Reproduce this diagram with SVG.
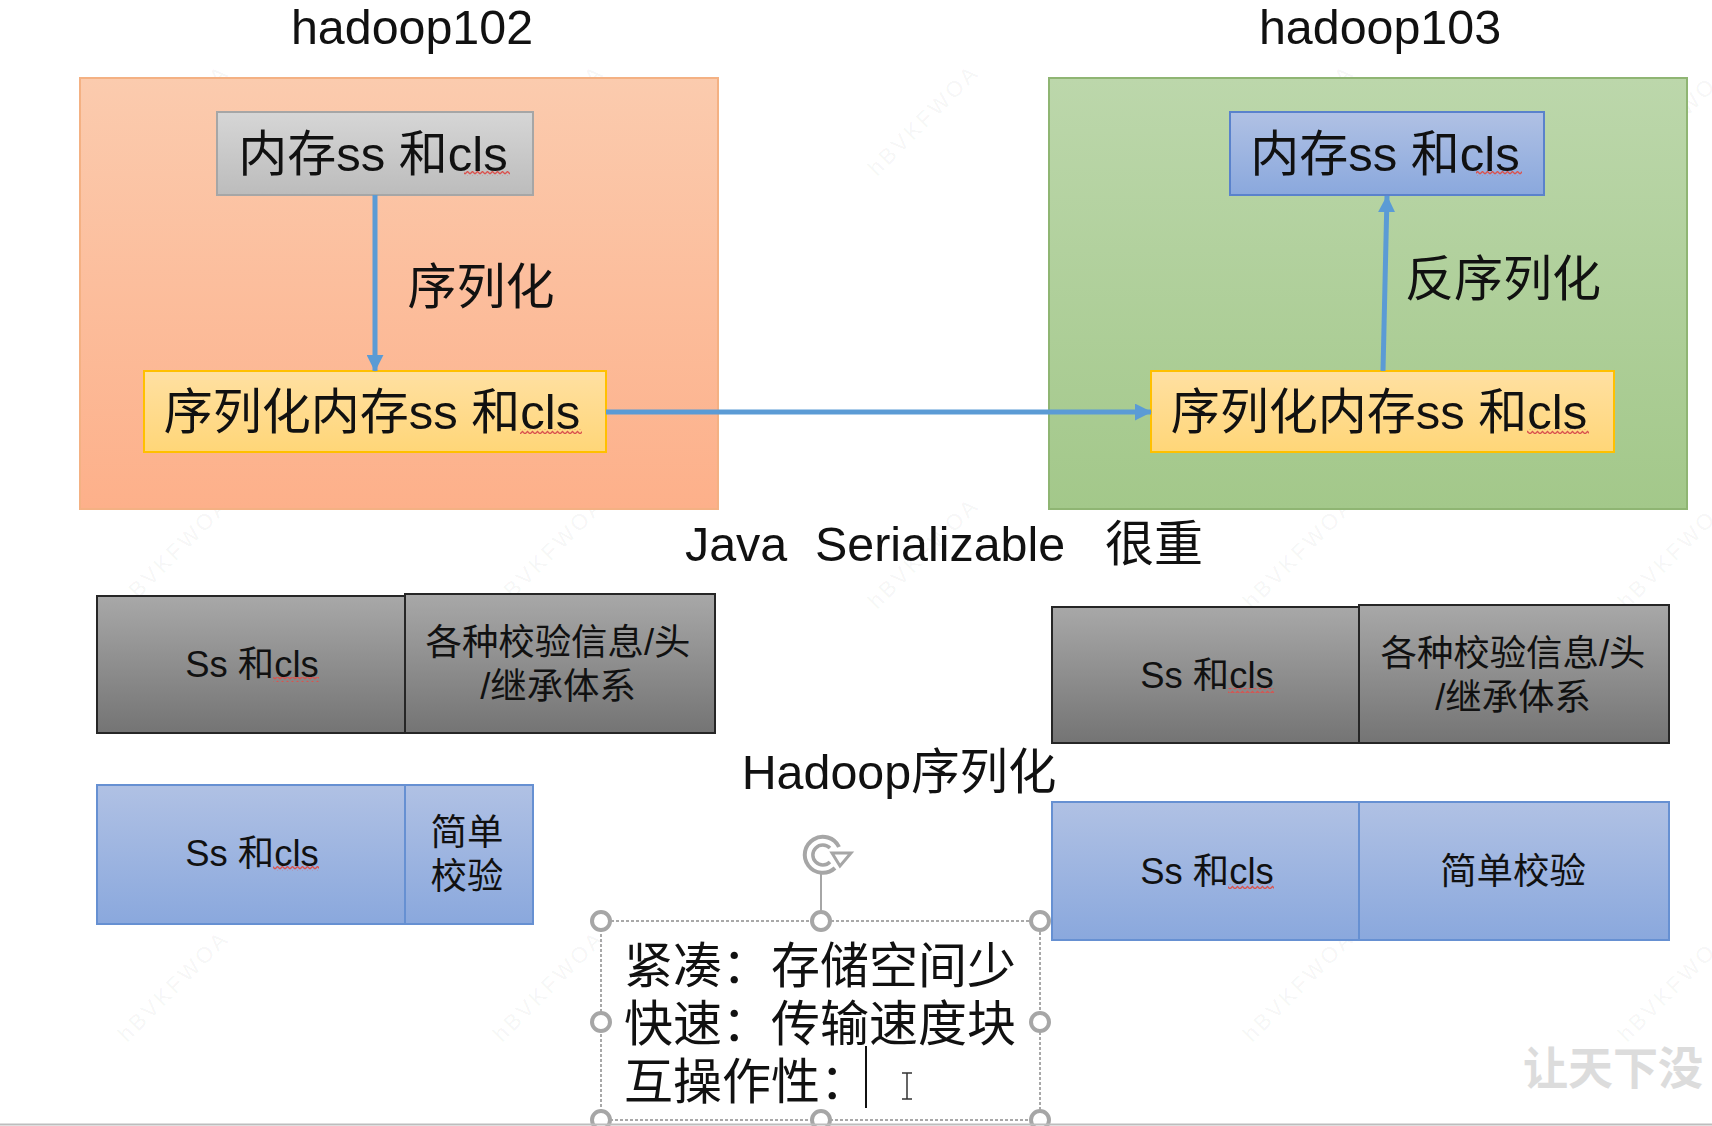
<svg xmlns="http://www.w3.org/2000/svg" width="1712" height="1126" viewBox="0 0 1712 1126">
<style>
text{font-family:"Liberation Sans","Noto Sans CJK SC",sans-serif;fill:#111;text-anchor:middle}
.t49{font-size:49px}.t48{font-size:48.4px}.t36{font-size:36.4px}
.l{text-anchor:start}
.wm{font-size:22px;fill:#000;fill-opacity:.055;letter-spacing:3px;text-anchor:start}
.conn{stroke:#5b9bd5;stroke-width:5;fill:none}
.h{fill:#fff;stroke:#a6a6a6;stroke-width:4}
.sq{fill:url(#squig)}
.dk{stroke:#262626;stroke-width:2}
.bl{stroke:#6690d2;stroke-width:2}
</style>
<defs>
<linearGradient id="gO" x1="0" y1="0" x2="0" y2="1"><stop offset="0" stop-color="#fbcbae"/><stop offset="1" stop-color="#fdb08a"/></linearGradient>
<linearGradient id="gG" x1="0" y1="0" x2="0" y2="1"><stop offset="0" stop-color="#bcd7ab"/><stop offset="1" stop-color="#a3c88a"/></linearGradient>
<linearGradient id="gS" x1="0" y1="0" x2="0" y2="1"><stop offset="0" stop-color="#d6d6d6"/><stop offset="1" stop-color="#bcbcbc"/></linearGradient>
<linearGradient id="gY" x1="0" y1="0" x2="0" y2="1"><stop offset="0" stop-color="#ffe0a2"/><stop offset="1" stop-color="#ffd678"/></linearGradient>
<linearGradient id="gB" x1="0" y1="0" x2="0" y2="1"><stop offset="0" stop-color="#b0c1e4"/><stop offset="1" stop-color="#8aa8dd"/></linearGradient>
<linearGradient id="gD" x1="0" y1="0" x2="0" y2="1"><stop offset="0" stop-color="#a8a8a8"/><stop offset="1" stop-color="#747474"/></linearGradient>
<pattern id="squig" width="5" height="5" patternUnits="userSpaceOnUse"><path d="M0 4L2.500 1.500L5 4" fill="none" stroke="#d9534f" stroke-width="1.300"/></pattern>
<marker id="arr" viewBox="0 0 10 10" refX="9.500" refY="5" markerUnits="userSpaceOnUse" markerWidth="17" markerHeight="17" orient="auto"><path d="M0 0L10 5L0 10Z" fill="#5b9bd5"/></marker>
</defs>
<rect width="1712" height="1126" fill="#fff"/>
<g id="watermarks">
<text class="wm" transform="translate(127 177) rotate(-45)">hBVKFWOA</text>
<text class="wm" transform="translate(502 177) rotate(-45)">hBVKFWOA</text>
<text class="wm" transform="translate(877 177) rotate(-45)">hBVKFWOA</text>
<text class="wm" transform="translate(1252 177) rotate(-45)">hBVKFWOA</text>
<text class="wm" transform="translate(1627 177) rotate(-45)">hBVKFWOA</text>
<text class="wm" transform="translate(127 610) rotate(-45)">hBVKFWOA</text>
<text class="wm" transform="translate(502 610) rotate(-45)">hBVKFWOA</text>
<text class="wm" transform="translate(877 610) rotate(-45)">hBVKFWOA</text>
<text class="wm" transform="translate(1252 610) rotate(-45)">hBVKFWOA</text>
<text class="wm" transform="translate(1627 610) rotate(-45)">hBVKFWOA</text>
<text class="wm" transform="translate(127 1043) rotate(-45)">hBVKFWOA</text>
<text class="wm" transform="translate(502 1043) rotate(-45)">hBVKFWOA</text>
<text class="wm" transform="translate(1252 1043) rotate(-45)">hBVKFWOA</text>
<text class="wm" transform="translate(1627 1043) rotate(-45)">hBVKFWOA</text>
</g>
<g id="hadoop102"><rect x="80" y="78" width="638" height="431" fill="url(#gO)" stroke="#f4b183" stroke-width="2"/><text class="t48" x="412" y="44">hadoop102</text></g>
<g id="hadoop103"><rect x="1049" y="78" width="638" height="431" fill="url(#gG)" stroke="#8fb573" stroke-width="2"/><text class="t48" x="1380" y="44">hadoop103</text></g>
<g id="mem-left"><rect x="217" y="112" width="316" height="83" fill="url(#gS)" stroke="#a6a6a6" stroke-width="2"/><text class="t49" x="373" y="171">内存ss 和cls</text><rect class="sq" x="464" y="171" width="46" height="5"/></g>
<g id="mem-right"><rect x="1230" y="112" width="314" height="83" fill="url(#gB)" stroke="#5a82cc" stroke-width="2"/><text class="t49" x="1385" y="171">内存ss 和cls</text><rect class="sq" x="1476" y="171" width="46" height="5"/></g>
<g id="ser-left"><rect x="144" y="371" width="462" height="81" fill="url(#gY)" stroke="#ffc000" stroke-width="2"/><text class="t49" x="372" y="429">序列化内存ss 和cls</text><rect class="sq" x="520" y="429" width="62" height="5"/></g>
<g id="ser-right"><rect x="1151" y="371" width="463" height="81" fill="url(#gY)" stroke="#ffc000" stroke-width="2"/><text class="t49" x="1379" y="429">序列化内存ss 和cls</text><rect class="sq" x="1527" y="429" width="62" height="5"/></g>
<g id="connectors">
<path class="conn" d="M375 195V371" marker-end="url(#arr)"/>
<path class="conn" d="M606 412H1151" marker-end="url(#arr)"/>
<path class="conn" d="M1383 371L1387 196" marker-end="url(#arr)"/>
</g>
<g id="labels">
<text class="t49" x="481" y="304">序列化</text>
<text class="t49" x="1503" y="296">反序列化</text>
<text class="t48 l" x="685" y="561">Java</text>
<text class="t48 l" x="815" y="561">Serializable</text>
<text class="l" style="font-size:49px" x="1105" y="561">很重</text>
<text class="t48" x="899" y="789">Hadoop序列化</text>
</g>
<g id="java-left">
<rect x="97" y="596" width="308" height="137" fill="url(#gD)" class="dk"/>
<rect x="405" y="594" width="310" height="139" fill="url(#gD)" class="dk"/>
<text class="t36" x="252" y="677">Ss 和cls</text><rect class="sq" x="273" y="677" width="46" height="5"/>
<text class="t36" x="558" y="655">各种校验信息/头</text><text class="t36" x="558" y="699">/继承体系</text>
</g>
<g id="java-right">
<rect x="1052" y="607" width="307" height="136" fill="url(#gD)" class="dk"/>
<rect x="1359" y="605" width="310" height="138" fill="url(#gD)" class="dk"/>
<text class="t36" x="1207" y="688">Ss 和cls</text><rect class="sq" x="1228" y="688" width="46" height="5"/>
<text class="t36" x="1513" y="666">各种校验信息/头</text><text class="t36" x="1513" y="710">/继承体系</text>
</g>
<g id="hadoop-left">
<rect x="97" y="785" width="308" height="139" fill="url(#gB)" class="bl"/>
<rect x="405" y="785" width="128" height="139" fill="url(#gB)" class="bl"/>
<text class="t36" x="252" y="866">Ss 和cls</text><rect class="sq" x="273" y="866" width="46" height="5"/>
<text class="t36" x="467" y="845">简单</text><text class="t36" x="467" y="889">校验</text>
</g>
<g id="hadoop-right">
<rect x="1052" y="802" width="307" height="138" fill="url(#gB)" class="bl"/>
<rect x="1359" y="802" width="310" height="138" fill="url(#gB)" class="bl"/>
<text class="t36" x="1207" y="884">Ss 和cls</text><rect class="sq" x="1228" y="884" width="46" height="5"/>
<text class="t36" x="1513" y="884">简单校验</text>
</g>
<g id="selected-textbox">
<rect x="601" y="921" width="439" height="199" fill="none" stroke="#8c8c8c" stroke-width="1.500" stroke-dasharray="3 2"/>
<path d="M821 921V873" stroke="#a6a6a6" stroke-width="2" fill="none"/>
<path d="M835 868A18 18 0 1 1 839 847" fill="none" stroke="#a6a6a6" stroke-width="4"/>
<path d="M830 862A10 10 0 1 1 830 848" fill="none" stroke="#a6a6a6" stroke-width="3.500"/>
<path d="M832 853L851 853L840 866Z" fill="#fff" stroke="#a6a6a6" stroke-width="3"/>
<circle class="h" cx="601" cy="921" r="9"/><circle class="h" cx="821" cy="921" r="9"/><circle class="h" cx="1040" cy="921" r="9"/>
<circle class="h" cx="601" cy="1022" r="9"/><circle class="h" cx="1040" cy="1022" r="9"/>
<circle class="h" cx="601" cy="1120" r="9"/><circle class="h" cx="821" cy="1120" r="9"/><circle class="h" cx="1040" cy="1120" r="9"/>
<text class="t49 l" x="624" y="983">紧凑：存储空间少</text>
<text class="t49 l" x="624" y="1041">快速：传输速度块</text>
<text class="t49 l" x="624" y="1099">互操作性：</text>
<path d="M866 1046V1108" stroke="#111" stroke-width="2"/>
<path d="M902 1073H912M902 1099H912M907 1073V1099" stroke="#333" stroke-width="1.500" fill="none"/>
</g>
<g id="stamp"><text x="1613" y="1085" style="font-size:45px;font-weight:700;fill:#dcdcdc">让天下没</text></g>
<path d="M0 1124.500H1712" stroke="#bdbdbd" stroke-width="2"/>
</svg>
